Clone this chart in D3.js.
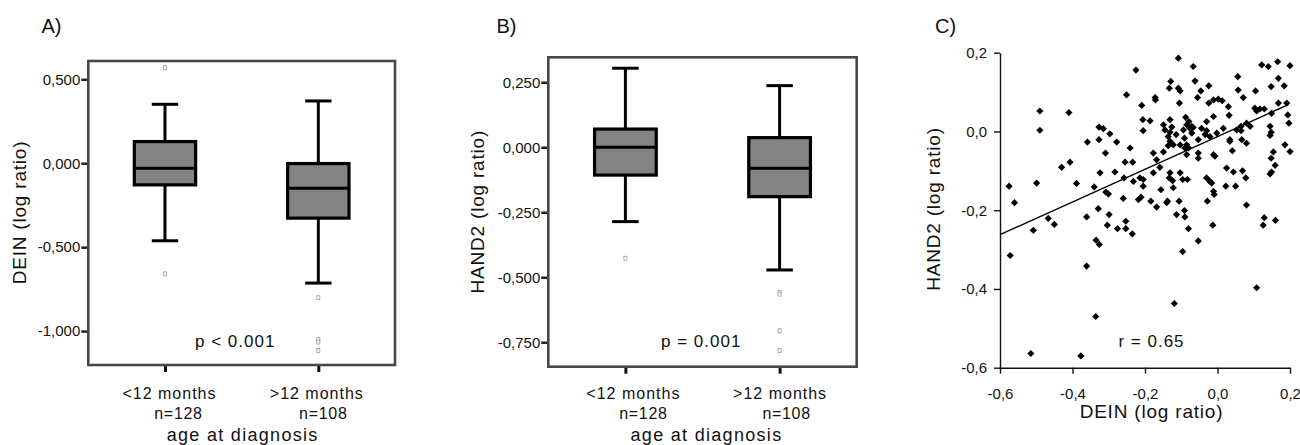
<!DOCTYPE html>
<html>
<head>
<meta charset="utf-8">
<script src="https://d3js.org/d3.v7.min.js"></script>
<style>
  body { margin: 0; background: #fff; }
  svg text { font-family: "Liberation Sans", Arial, sans-serif; fill: #111; }
</style>
</head>
<body>
<svg id="chart" width="1300" height="445"></svg>
<script>
// ---------- data ----------
var groups = ["<12 months", ">12 months"];
var groupN = ["n=128", "n=108"];

// each box: [low whisker, Q1, median, Q3, high whisker]
var deinBoxes = [[-0.462, -0.129, -0.030, 0.129, 0.351],
                 [-0.714, -0.327, -0.149, -0.002, 0.371]];
var deinOutliers = [[0.569, -0.659], [-0.801, -1.050, -1.065, -1.115]];
var deinTicks = [0.5, 0, -0.5, -1];

var hand2Boxes = [[-0.286, -0.107, 0.000, 0.070, 0.304],
                  [-0.472, -0.190, -0.081, 0.037, 0.237]];
var hand2Outliers = [[-0.427], [-0.558, -0.565, -0.706, -0.782]];
var hand2Ticks = [0.25, 0, -0.25, -0.5, -0.75];

var scatterDein = [
  -0.575,-0.572,-0.560,-0.508,-0.499,-0.490,-0.490,-0.467,-0.450,-0.430,
  -0.410,-0.407,-0.389,-0.361,-0.359,-0.361,-0.340,-0.335,-0.326,-0.329,
  -0.327,-0.327,-0.324,-0.315,-0.309,-0.308,-0.301,-0.299,-0.304,-0.297,
  -0.283,-0.278,-0.276,-0.260,-0.258,-0.253,-0.253,-0.255,-0.251,-0.241,
  -0.235,-0.234,-0.232,-0.225,-0.218,-0.214,-0.211,-0.209,-0.205,-0.206,
  -0.205,-0.205,-0.186,-0.184,-0.177,-0.177,-0.172,-0.171,-0.168,-0.168,
  -0.159,-0.156,-0.149,-0.149,-0.145,-0.140,-0.136,-0.133,-0.129,-0.131,
  -0.131,-0.131,-0.133,-0.126,-0.124,-0.122,-0.122,-0.119,-0.114,-0.113,
  -0.108,-0.108,-0.103,-0.105,-0.106,-0.103,-0.103,-0.096,-0.096,-0.094,
  -0.091,-0.090,-0.090,-0.088,-0.085,-0.085,-0.083,-0.080,-0.079,-0.076,
  -0.071,-0.067,-0.062,-0.053,-0.053,-0.053,-0.053,-0.055,-0.046,-0.044,
  -0.034,-0.030,-0.030,-0.030,-0.028,-0.024,-0.024,-0.021,-0.021,-0.016,
  -0.013,-0.011,-0.011,-0.011,-0.007,-0.009,-0.011,-0.002,0.002,0.013,
  0.016,0.023,0.025,0.030,0.032,0.034,0.034,0.041,0.044,0.050,
  0.053,0.056,0.057,0.065,0.067,0.069,0.071,0.078,0.080,0.080,
  0.080,0.090,0.103,0.105,0.108,0.108,0.117,0.122,0.129,0.126,
  0.129,0.140,0.145,0.148,0.145,0.148,0.145,0.149,0.148,0.149,
  0.154,0.159,0.160,0.166,0.168,0.168,0.184,0.186,0.191,0.194,
  0.197,0.200,0.200,-0.515,-0.377,-0.336,-0.085,-0.080,-0.138,-0.071,
  -0.067,-0.131,-0.091,0.065,-0.136
];
var scatterHand2 = [
  -0.139,-0.315,-0.181,-0.251,-0.131,0.052,0.003,-0.221,-0.236,-0.091,
  0.048,-0.078,-0.132,-0.217,-0.027,-0.342,-0.141,-0.276,-0.287,-0.196,
  0.011,-0.021,-0.105,0.007,-0.055,-0.154,-0.159,-0.211,-0.238,-0.006,
  -0.103,-0.027,-0.247,-0.170,-0.118,-0.228,-0.247,-0.078,0.093,-0.042,
  -0.260,-0.078,-0.127,0.156,-0.173,-0.118,-0.167,0.066,0.002,0.030,
  -0.122,-0.139,0.027,-0.177,-0.055,-0.105,0.086,0.080,-0.072,-0.192,
  -0.091,-0.148,0.017,-0.052,0.004,-0.181,-0.013,0.110,0.127,0.030,
  -0.025,-0.105,-0.118,0.011,-0.125,-0.034,-0.143,-0.437,-0.008,-0.211,
  0.186,0.110,0.103,0.072,-0.177,-0.034,-0.105,-0.122,-0.305,0.004,
  -0.201,-0.217,-0.042,0.036,0.017,-0.059,-0.122,-0.247,0.025,0.008,
  -0.004,0.165,0.128,-0.021,-0.055,-0.068,-0.278,0.086,0.103,0.008,
  -0.008,0.025,0.002,-0.118,-0.177,0.116,0.072,-0.013,-0.127,-0.131,
  -0.238,0.080,0.038,-0.059,-0.063,-0.160,-0.152,-0.004,0.082,0.078,
  0.008,-0.139,-0.093,0.063,0.041,-0.021,-0.025,-0.049,-0.103,-0.139,
  0.004,0.139,0.105,0.002,-0.021,-0.100,0.086,-0.118,0.021,-0.030,
  -0.187,0.013,0.059,0.103,0.052,-0.397,0.057,0.169,0.057,-0.238,
  -0.219,0.165,0.013,-0.002,-0.010,-0.068,-0.108,-0.103,0.114,0.046,
  -0.052,-0.086,-0.226,0.177,0.135,0.072,0.116,-0.034,0.072,0.042,
  0.021,0.167,-0.051,-0.564,-0.570,-0.470,-0.034,-0.042,-0.177,0.013,
  0.010,-0.002,-0.017,0.013,-0.036
];
var fitLine = [[-0.6, -0.262], [0.195, 0.068]];
var scatterXTicks = [-0.6, -0.4, -0.2, 0.0, 0.2];
var scatterYTicks = [0.2, 0.0, -0.2, -0.4, -0.6];

// ---------- drawing ----------
var svg = d3.select("#chart");

function commaFmt(digits) {
  return function (v) { return v.toFixed(digits).replace(".", ","); };
}

function drawBoxPanel(cfg) {
  var g = svg.append("g");
  var x = d3.scalePoint().domain(groups).range([cfg.left, cfg.right]).padding(0.5);
  var y = d3.scaleLinear().domain(cfg.yDomain).range([cfg.bottom, cfg.top]);
  var boxW = (cfg.right - cfg.left) * 0.2;
  var capW = boxW * 0.43;

  // y axis ticks + labels
  var yAxis = d3.axisLeft(y).tickValues(cfg.ticks).tickFormat(commaFmt(3))
    .tickSize(7).tickPadding(1).tickSizeOuter(0);
  var ya = g.append("g").attr("transform", "translate(" + cfg.left + ",0)").call(yAxis);
  ya.select(".domain").remove();
  ya.selectAll("line").attr("stroke", "#222").attr("stroke-width", 2.5);
  ya.selectAll("text").style("font-size", "15px").attr("fill", "#111");

  // x axis ticks
  var xAxis = d3.axisBottom(x).tickSize(7).tickFormat("").tickSizeOuter(0);
  var xa = g.append("g").attr("transform", "translate(0," + cfg.bottom + ")").call(xAxis);
  xa.select(".domain").remove();
  xa.selectAll("line").attr("stroke", "#111").attr("stroke-width", 3);

  // boxes
  var bx = g.selectAll(".box").data(cfg.boxes).enter().append("g")
    .attr("transform", function (d, i) { return "translate(" + x(groups[i]) + ",0)"; });
  bx.append("line").attr("x1", 0).attr("x2", 0)
    .attr("y1", function (d) { return y(d[4]); }).attr("y2", function (d) { return y(d[0]); })
    .attr("stroke", "#000").attr("stroke-width", 3);
  bx.selectAll(".cap").data(function (d) { return [d[0], d[4]]; }).enter().append("line")
    .attr("x1", -capW / 2).attr("x2", capW / 2)
    .attr("y1", function (v) { return y(v); }).attr("y2", function (v) { return y(v); })
    .attr("stroke", "#000").attr("stroke-width", 3);
  bx.append("rect")
    .attr("x", -boxW / 2).attr("width", boxW)
    .attr("y", function (d) { return y(d[3]); })
    .attr("height", function (d) { return y(d[1]) - y(d[3]); })
    .attr("fill", "#838383").attr("stroke", "#000").attr("stroke-width", 3.2);
  bx.append("line").attr("x1", -boxW / 2).attr("x2", boxW / 2)
    .attr("y1", function (d) { return y(d[2]); }).attr("y2", function (d) { return y(d[2]); })
    .attr("stroke", "#000").attr("stroke-width", 3);

  // outliers
  cfg.outliers.forEach(function (arr, i) {
    g.selectAll(null).data(arr).enter().append("rect")
      .attr("x", x(groups[i]) - 1.5).attr("width", 3)
      .attr("y", function (v) { return y(v) - 2; }).attr("height", 4)
      .attr("fill", "#fff").attr("stroke", "#9a9a9a").attr("stroke-width", 0.8);
  });

  // frame
  g.append("rect").attr("x", cfg.left).attr("y", cfg.top)
    .attr("width", cfg.right - cfg.left).attr("height", cfg.bottom - cfg.top)
    .attr("fill", "none").attr("stroke", "#474747").attr("stroke-width", 2.6);

  // texts
  g.append("text").attr("x", cfg.letterX).attr("y", 33).style("font-size", "20px").text(cfg.letter);
  g.append("text").attr("transform", "translate(" + cfg.titleX + "," + cfg.titleY + ") rotate(-90)")
    .attr("text-anchor", "middle").style("font-size", "19px").style("letter-spacing", "0.8px")
    .text(cfg.yTitle);
  groups.forEach(function (name, i) {
    g.append("text").attr("x", x(name) + cfg.catDx[i]).attr("y", 399)
      .attr("text-anchor", "middle").style("font-size", "16px").style("letter-spacing", "1px").text(name);
    g.append("text").attr("x", x(name) + cfg.nDx[i]).attr("y", 419)
      .attr("text-anchor", "middle").style("font-size", "16px").style("letter-spacing", "0.7px").text(groupN[i]);
  });
  g.append("text").attr("x", (cfg.left + cfg.right) / 2 + cfg.xTitleDx).attr("y", 441)
    .attr("text-anchor", "middle").style("font-size", "18px").style("letter-spacing", "1.3px")
    .text("age at diagnosis");
  g.append("text").attr("x", cfg.pX).attr("y", 346.5)
    .style("font-size", "17px").style("letter-spacing", "1px").text(cfg.pText);
}

drawBoxPanel({
  left: 88.3, right: 395, top: 61, bottom: 365,
  yDomain: [-1.202, 0.609], ticks: deinTicks,
  boxes: deinBoxes, outliers: deinOutliers,
  letter: "A)", letterX: 41.5,
  yTitle: "DEIN (log ratio)", titleX: 26, titleY: 212.5,
  catDx: [4.5, -1.5], nDx: [13.5, 5], xTitleDx: 1,
  pText: "p < 0.001", pX: 195
});

drawBoxPanel({
  left: 548.3, right: 856.7, top: 57.3, bottom: 366.7,
  yDomain: [-0.844, 0.346], ticks: hand2Ticks,
  boxes: hand2Boxes, outliers: hand2Outliers,
  letter: "B)", letterX: 496.5,
  yTitle: "HAND2 (log ratio)", titleX: 484, titleY: 211.7,
  catDx: [8, 0.5], nDx: [18, 7], xTitleDx: 4,
  pText: "p = 0.001", pX: 661
});

// scatter panel C
(function () {
  var g = svg.append("g");
  var x = d3.scaleLinear().domain([-0.6, 0.2]).range([1000, 1290]);
  var y = d3.scaleLinear().domain([-0.6, 0.2]).range([367.7, 52.7]);

  var xa = g.append("g").attr("transform", "translate(0,367.7)")
    .call(d3.axisBottom(x).tickValues(scatterXTicks).tickFormat(commaFmt(1))
      .tickSize(6).tickPadding(14.5).tickSizeOuter(0));
  var ya = g.append("g").attr("transform", "translate(1000,0)")
    .call(d3.axisLeft(y).tickValues(scatterYTicks).tickFormat(commaFmt(1))
      .tickSize(6).tickPadding(7).tickSizeOuter(0));
  [xa, ya].forEach(function (a) {
    a.selectAll("line, .domain").attr("stroke", "#111").attr("stroke-width", 1.4);
    a.selectAll("text").style("font-size", "15px").attr("fill", "#111");
  });

  var pts = scatterDein.map(function (d, i) { return [d, scatterHand2[i]]; });
  g.selectAll(".pt").data(pts).enter().append("path")
    .attr("d", "M0,-3.6L3.6,0L0,3.6L-3.6,0Z")
    .attr("transform", function (d) { return "translate(" + x(d[0]) + "," + y(d[1]) + ")"; })
    .attr("fill", "#000");

  g.append("path").datum(fitLine)
    .attr("d", d3.line().x(function (d) { return x(d[0]); }).y(function (d) { return y(d[1]); }))
    .attr("fill", "none").attr("stroke", "#000").attr("stroke-width", 1.4);

  g.append("text").attr("x", 935).attr("y", 33).style("font-size", "20px").text("C)");
  g.append("text").attr("transform", "translate(940,209) rotate(-90)")
    .attr("text-anchor", "middle").style("font-size", "19px").style("letter-spacing", "0.8px")
    .text("HAND2 (log ratio)");
  g.append("text").attr("x", 1151.5).attr("y", 418).attr("text-anchor", "middle")
    .style("font-size", "19px").style("letter-spacing", "0.8px").text("DEIN (log ratio)");
  g.append("text").attr("x", 1151.5).attr("y", 347).attr("text-anchor", "middle")
    .style("font-size", "17px").style("letter-spacing", "1px").text("r = 0.65");
})();
</script>
</body>
</html>
